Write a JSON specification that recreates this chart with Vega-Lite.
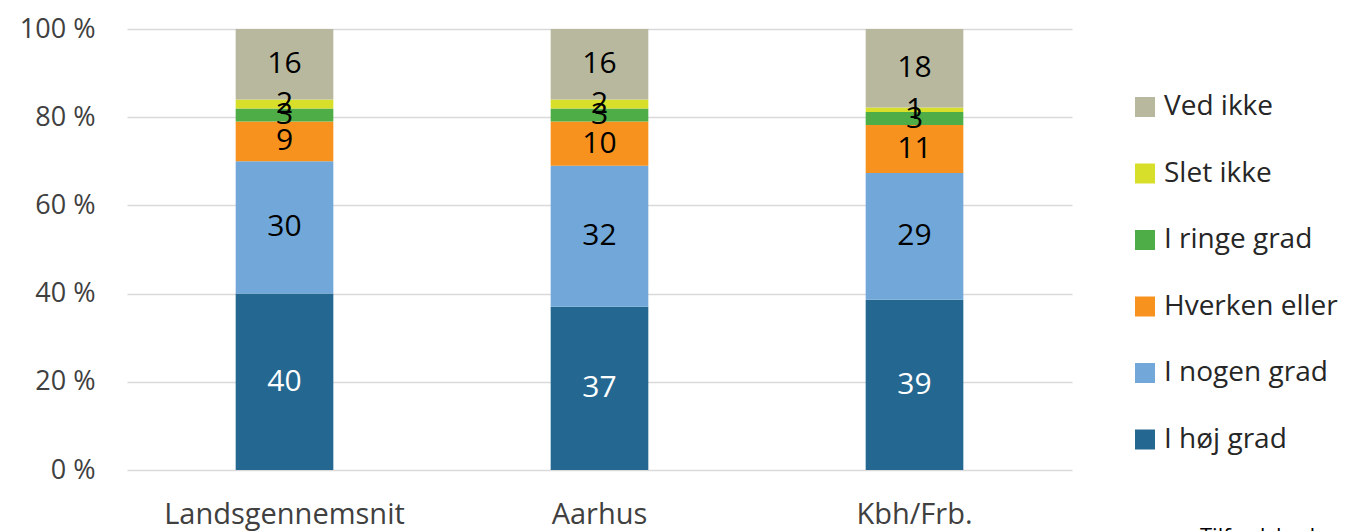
{
  "$schema": "https://vega.github.io/schema/vega-lite/v6.json",
  "width": 945,
  "height": 441,
  "autosize": "none",
  "padding": {"left": 127, "top": 29, "right": 280, "bottom": 61},
  "background": "white",
  "config": {
    "view": {"stroke": null},
    "font": "Open Sans"
  },
  "title": {
    "text": "Tilfredshed med",
    "orient": "bottom",
    "anchor": "start",
    "frame": "group",
    "dx": 1073,
    "offset": -2,
    "fontSize": 22,
    "fontWeight": "normal",
    "color": "#000000",
    "font": "Open Sans"
  },
  "data": {
    "values": [
      {"city": "Landsgennemsnit", "cat": "I høj grad", "o": 1, "v": 40},
      {"city": "Landsgennemsnit", "cat": "I nogen grad", "o": 2, "v": 30},
      {"city": "Landsgennemsnit", "cat": "Hverken eller", "o": 3, "v": 9},
      {"city": "Landsgennemsnit", "cat": "I ringe grad", "o": 4, "v": 3},
      {"city": "Landsgennemsnit", "cat": "Slet ikke", "o": 5, "v": 2},
      {"city": "Landsgennemsnit", "cat": "Ved ikke", "o": 6, "v": 16},
      {"city": "Aarhus", "cat": "I høj grad", "o": 1, "v": 37},
      {"city": "Aarhus", "cat": "I nogen grad", "o": 2, "v": 32},
      {"city": "Aarhus", "cat": "Hverken eller", "o": 3, "v": 10},
      {"city": "Aarhus", "cat": "I ringe grad", "o": 4, "v": 3},
      {"city": "Aarhus", "cat": "Slet ikke", "o": 5, "v": 2},
      {"city": "Aarhus", "cat": "Ved ikke", "o": 6, "v": 16},
      {"city": "Kbh/Frb.", "cat": "I høj grad", "o": 1, "v": 39},
      {"city": "Kbh/Frb.", "cat": "I nogen grad", "o": 2, "v": 29},
      {"city": "Kbh/Frb.", "cat": "Hverken eller", "o": 3, "v": 11},
      {"city": "Kbh/Frb.", "cat": "I ringe grad", "o": 4, "v": 3},
      {"city": "Kbh/Frb.", "cat": "Slet ikke", "o": 5, "v": 1},
      {"city": "Kbh/Frb.", "cat": "Ved ikke", "o": 6, "v": 18}
    ]
  },
  "encoding": {
    "x": {
      "field": "city",
      "type": "nominal",
      "sort": ["Landsgennemsnit", "Aarhus", "Kbh/Frb."],
      "scale": {"paddingInner": 0.69, "paddingOuter": 0.345},
      "axis": {
        "title": null,
        "labelAngle": 0,
        "domain": false,
        "ticks": false,
        "labelFontSize": 29,
        "labelColor": "#404040",
        "labelPadding": 30,
        "labelLimit": 500,
        "labelFont": "Open Sans"
      }
    },
    "y": {
      "field": "v",
      "type": "quantitative",
      "stack": "normalize",
      "scale": {"domain": [0, 1]},
      "axis": {
        "title": null,
        "values": [0, 0.2, 0.4, 0.6, 0.8, 1],
        "labelExpr": "round(datum.value*100) + ' %'",
        "domain": false,
        "ticks": false,
        "grid": true,
        "gridColor": "#d9d9d9",
        "gridWidth": 1.5,
        "labelFontSize": 27,
        "labelColor": "#404040",
        "labelPadding": 32,
        "labelFont": "Open Sans"
      }
    },
    "order": {"field": "o", "type": "quantitative"}
  },
  "layer": [
    {
      "mark": {"type": "bar"},
      "encoding": {
        "color": {
          "field": "cat",
          "type": "nominal",
          "scale": {
            "domain": ["I høj grad", "I nogen grad", "Hverken eller", "I ringe grad", "Slet ikke", "Ved ikke"],
            "range": ["#246791", "#71a8d9", "#f7921e", "#4ead47", "#d8df2b", "#b8b89f"]
          },
          "legend": {
            "title": null,
            "orient": "none",
            "legendX": 1004,
            "legendY": 64,
            "values": ["Ved ikke", "Slet ikke", "I ringe grad", "Hverken eller", "I nogen grad", "I høj grad"],
            "symbolType": "square",
            "symbolSize": 400,
            "symbolStrokeWidth": 0,
            "labelFontSize": 28,
            "labelColor": "#262626",
            "labelFont": "Open Sans",
            "labelOffset": 5,
            "rowPadding": 38.5,
            "labelLimit": 300
          }
        }
      }
    },
    {
      "mark": {"type": "text", "fontSize": 30, "font": "Open Sans", "baseline": "middle"},
      "encoding": {
        "y": {"field": "v", "type": "quantitative", "stack": "normalize", "bandPosition": 0.5},
        "text": {"field": "v", "type": "quantitative"},
        "color": {
          "condition": {"test": "datum.cat === 'I høj grad'", "value": "#ffffff"},
          "value": "#000000"
        }
      }
    }
  ]
}
